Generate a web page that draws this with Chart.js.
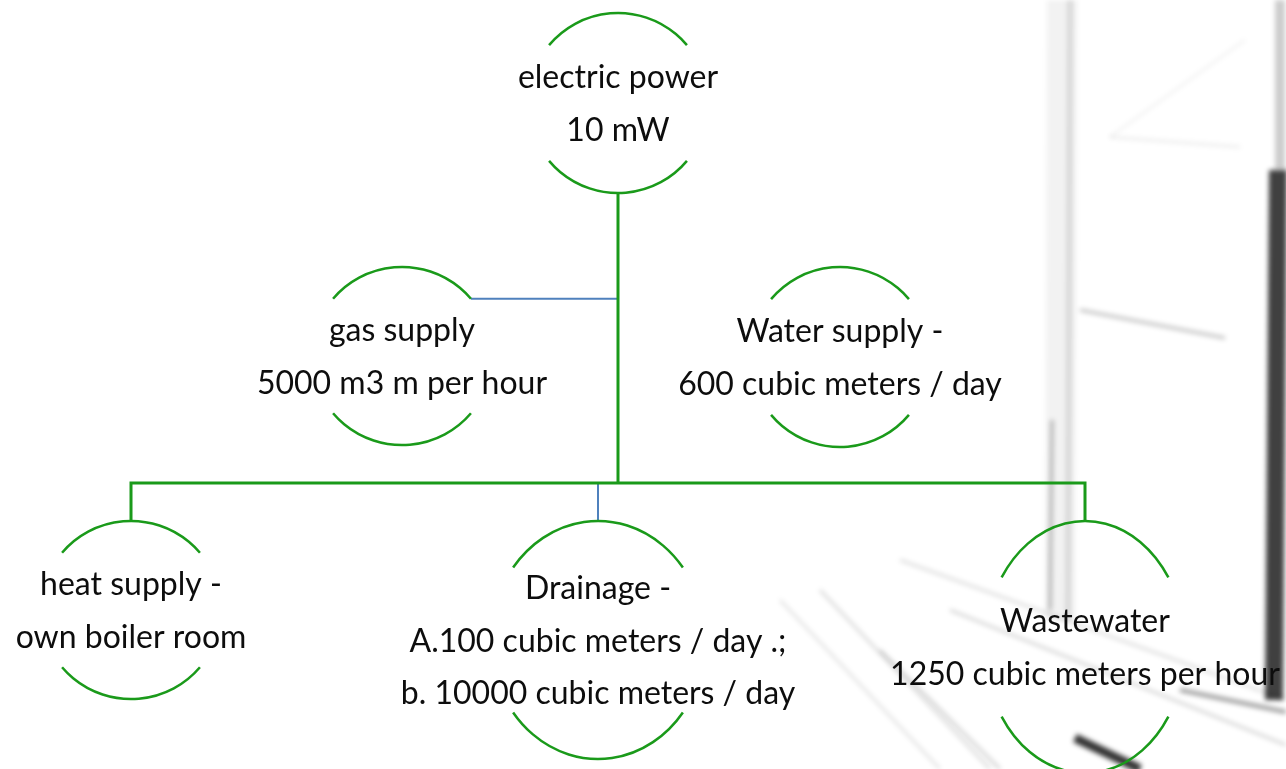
<!DOCTYPE html>
<html>
<head>
<meta charset="utf-8">
<script src="https://cdn.jsdelivr.net/npm/chart.js@4.4.0/dist/chart.umd.min.js"></script>
<style>
  html, body { margin: 0; padding: 0; background: #fff; }
  #wrap { width: 1286px; height: 769px; }
</style>
</head>
<body>
<div id="wrap"><canvas id="diagram"></canvas></div>
<script>
"use strict";

// Nodes of the supply scheme
const nodeLabels = [
  ["electric power", "10 mW"],
  ["gas supply", "5000 m3 m per hour"],
  ["Water supply -", "600 cubic meters / day"],
  ["heat supply -", "own boiler room"],
  ["Drainage -", "A.100 cubic meters / day .;", "b. 10000 cubic meters / day"],
  ["Wastewater", "1250 cubic meters per hour"],
];
const nodeX = [618, 402, 840, 131, 598, 1085];
const nodeY = [103, 356, 357, 610, 640, 647];
const nodeRx = [90, 90, 90, 90, 107, 100];
const nodeRy = [90, 89, 90, 89, 119, 126];
const nodeArcSpan = [50, 50, 50, 50, 52.5, 56.5]; // half angle of each arc (deg)
const busY = 483;

const GREEN = "#1a9a1a";
const BLUE = "#4f81bd";

const rad = (d) => (d * Math.PI) / 180;
const topOf = (i) => nodeY[i] - nodeRy[i];
const bottomOf = (i) => nodeY[i] + nodeRy[i];

// Connectors (built from the nodes)
const gasJoinX = nodeX[1] + nodeRx[1] * Math.sin(rad(nodeArcSpan[1]));
const gasJoinY = nodeY[1] - nodeRy[1] * Math.cos(rad(nodeArcSpan[1]));

const greenLinks = [
  [[nodeX[0], bottomOf(0)], [nodeX[0], busY]],
  [[nodeX[3], topOf(3)], [nodeX[3], busY], [nodeX[5], busY], [nodeX[5], topOf(5)]],
];
const blueLinks = [
  [[gasJoinX, gasJoinY], [nodeX[0], gasJoinY]],
  [[nodeX[4], busY], [nodeX[4], topOf(4)]],
];

function linkDataset(pts, color, width) {
  return {
    data: pts.map(([x, y]) => ({ x, y })),
    showLine: true,
    borderColor: color,
    borderWidth: width,
    pointRadius: 0,
    fill: false,
    tension: 0,
    borderCapStyle: "butt",
    borderJoinStyle: "miter",
  };
}

// Faded window photo behind the scheme
const backdrop = {
  id: "backdrop",
  beforeDraw(chart) {
    const { ctx } = chart;
    const px = (x) => chart.scales.x.getPixelForValue(x);
    const py = (y) => chart.scales.y.getPixelForValue(y);
    const stroke = (pts, color, w) => {
      ctx.beginPath();
      pts.forEach(([x, y], k) => (k ? ctx.lineTo(px(x), py(y)) : ctx.moveTo(px(x), py(y))));
      ctx.strokeStyle = color;
      ctx.lineWidth = w;
      ctx.stroke();
    };
    ctx.save();
    ctx.fillStyle = "#ffffff";
    ctx.fillRect(0, 0, chart.width, chart.height);
    ctx.filter = "blur(2.5px)";
    ctx.lineCap = "butt";
    // frame
    stroke([[1062, 0], [1060, 620]], "rgba(0,0,0,0.05)", 30);
    stroke([[1070, 0], [1068, 620]], "rgba(0,0,0,0.12)", 5);
    stroke([[1052, 420], [1050, 610]], "rgba(0,0,0,0.3)", 3);
    stroke([[1280, 0], [1280, 170]], "rgba(0,0,0,0.2)", 10);
    stroke([[1278, 170], [1274, 700]], "rgba(0,0,0,0.75)", 18);
    // panes
    stroke([[1110, 137], [1240, 147]], "rgba(0,0,0,0.1)", 2);
    stroke([[1110, 137], [1245, 40]], "rgba(0,0,0,0.07)", 2);
    stroke([[1080, 310], [1225, 338]], "rgba(0,0,0,0.25)", 3);
    // sill and floor
    stroke([[820, 590], [990, 769]], "rgba(0,0,0,0.2)", 2);
    stroke([[780, 600], [940, 769]], "rgba(0,0,0,0.15)", 2);
    stroke([[880, 650], [1000, 769]], "rgba(0,0,0,0.25)", 2);
    stroke([[900, 560], [1286, 700]], "rgba(0,0,0,0.18)", 2);
    stroke([[950, 610], [1286, 745]], "rgba(0,0,0,0.22)", 2);
    stroke([[1180, 690], [1286, 712]], "rgba(0,0,0,0.4)", 4);
    stroke([[1075, 738], [1140, 769]], "rgba(0,0,0,0.8)", 9);
    ctx.restore();
  },
};

// Circle arcs and labels of each node
const nodes = {
  id: "nodes",
  afterDatasetsDraw(chart) {
    const { ctx } = chart;
    const xs = chart.scales.x;
    const ys = chart.scales.y;
    ctx.save();
    nodeLabels.forEach((lines, i) => {
      const cx = xs.getPixelForValue(nodeX[i]);
      const cy = ys.getPixelForValue(nodeY[i]);
      const rx = Math.abs(xs.getPixelForValue(nodeX[i] + nodeRx[i]) - cx);
      const ry = Math.abs(ys.getPixelForValue(nodeY[i] + nodeRy[i]) - cy);
      const a = rad(nodeArcSpan[i]);
      ctx.strokeStyle = GREEN;
      ctx.lineWidth = 2.5;
      ctx.beginPath();
      ctx.ellipse(cx, cy, rx, ry, 0, -Math.PI / 2 - a, -Math.PI / 2 + a);
      ctx.stroke();
      ctx.beginPath();
      ctx.ellipse(cx, cy, rx, ry, 0, Math.PI / 2 - a, Math.PI / 2 + a);
      ctx.stroke();

      ctx.fillStyle = "#0d0d0d";
      ctx.font = "32px Lato";
      ctx.textAlign = "center";
      ctx.textBaseline = "alphabetic";
      const step = 52.5;
      lines.forEach((t, k) => {
        const y = cy + 11.5 + (k - (lines.length - 1) / 2) * step;
        ctx.fillText(t, cx, y);
      });
    });
    ctx.restore();
  },
};

new Chart(document.getElementById("diagram"), {
  type: "scatter",
  data: {
    datasets: [
      ...greenLinks.map((p) => linkDataset(p, GREEN, 3)),
      ...blueLinks.map((p) => linkDataset(p, BLUE, 2)),
    ],
  },
  options: {
    responsive: true,
    maintainAspectRatio: false,
    animation: false,
    events: [],
    layout: { padding: 0 },
    plugins: {
      legend: { display: false },
      tooltip: { enabled: false },
    },
    scales: {
      x: { type: "linear", min: 0, max: 1286, display: false },
      y: { type: "linear", min: 0, max: 769, reverse: true, display: false },
    },
  },
  plugins: [backdrop, nodes],
});
</script>
</body>
</html>
